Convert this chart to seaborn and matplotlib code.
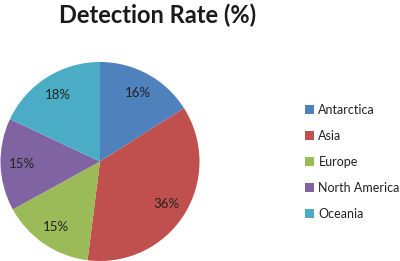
import matplotlib
matplotlib.use("Agg")
import matplotlib.pyplot as plt
import seaborn as sns
from matplotlib.patches import Patch

sns.set_theme(style="white")
plt.rcParams['font.family'] = ['Lato', 'DejaVu Sans']

# ------------------------------------------------------------
# Data
# ------------------------------------------------------------
regions = ["Antarctica", "Asia", "Europe", "North America", "Oceania"]
rates = [16, 36, 15, 15, 18]
colors = ["#4F81BD", "#C0504D", "#9BBB59", "#8064A2", "#4BACC6"]
title = "Detection Rate (%)"

# ------------------------------------------------------------
# Plot
# ------------------------------------------------------------
W, H = 400, 261
fig = plt.figure(figsize=(W / 100, H / 100), dpi=100)
fig.patch.set_facecolor("white")

cx, cy, r = 100, 161.5, 99.5
ax = fig.add_axes([(cx - r) / W, (H - cy - r) / H, 2 * r / W, 2 * r / H])
ax.pie(rates, colors=colors, startangle=90, counterclock=False,
       autopct=lambda p: f"{p:.0f}%", pctdistance=0.79,
       textprops=dict(fontsize=9.5, color="#222222"),
       wedgeprops=dict(linewidth=0))
ax.set_aspect("equal")
ax.set_xlim(-1, 1)
ax.set_ylim(-1, 1)
ax.axis("off")

fig.text(158 / W, 1 - 15 / H, title, ha="center", va="center",
         fontsize=17, fontweight="bold", color="#1a1a1a")

handles = [Patch(facecolor=c, edgecolor="none") for c in colors]
fig.legend(handles, regions, loc="center left",
           bbox_to_anchor=(294 / W, 1 - 162 / H), frameon=False,
           fontsize=9, labelspacing=1.12, handlelength=0.7,
           handleheight=0.7, handletextpad=0.35,
           labelcolor="#222222")

fig.savefig("out.png", dpi=100)
